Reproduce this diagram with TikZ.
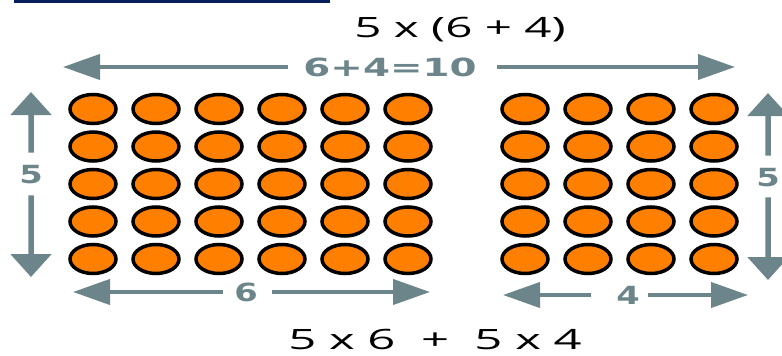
\documentclass[tikz,border=0pt]{standalone}
\usepackage{fontspec}
\setmainfont{Open Sans}
\newfontfamily\dimfont{DejaVu Sans}
\usetikzlibrary{arrows.meta,shapes.geometric}
\definecolor{dimgray}{RGB}{107,133,138}
\definecolor{dotorange}{RGB}{255,128,0}
\definecolor{barnavy}{RGB}{8,30,90}
\begin{document}
\begin{tikzpicture}[x=1pt,y=-1pt,
  dot/.style={ellipse,draw=black,line width=3.5pt,fill=dotorange,minimum width=46pt,minimum height=29pt,inner sep=0pt},
  dimlbl/.style={text=dimgray,font=\dimfont\bfseries\fontsize{25}{25}\selectfont,inner sep=0pt,xscale=1.35},
  eqn/.style={font=\fontsize{28}{28}\selectfont,inner sep=0pt,xscale=1.7},
  harr/.style={-{Triangle[length=37pt,width=25pt]},draw=dimgray,line width=4pt},
  varr/.style={-{Triangle[length=23pt,width=40pt]},draw=dimgray,line width=5.5pt}]
\useasboundingbox (0,0) rectangle (782,356);
% navy bar on top
\fill[barnavy] (14,0) rectangle (330,3);
% the two expressions
\node[eqn] (whole) at (460,30) {5 x (6 + 4)};
\node[eqn,xscale=1.03] (split) at (435,339) {5 x 6 \ + \ 5 x 4};
% dots: 5 rows, 6 on the left and 4 on the right
\foreach \r in {1,...,5}{
  \foreach \c in {1,...,6}
    \node[dot] (L\r\c) at ({93+63*(\c-1)},{109+37.5*(\r-1)}) {};
  \foreach \c in {1,...,4}
    \node[dot] (R\r\c) at ({525+63*(\c-1)},{109+37.5*(\r-1)}) {};
}
% total width 6+4=10
\node[dimlbl,xscale=1.15] (sum) at (390,67) {6+4=10};
\coordinate (sumL) at (63,67);
\coordinate (sumR) at (735,67);
\draw[harr,shorten <=15pt] (sum) -- (sumL);
\draw[harr,shorten <=20pt] (sum) -- (sumR);
% left height 5
\node[dimlbl] (hL) at (31,175) {5};
\coordinate (hLtop) at (31,92);
\coordinate (hLbot) at (31,277);
\draw[varr,shorten <=13pt] (hL) -- (hLtop);
\draw[varr,shorten <=11pt] (hL) -- (hLbot);
% right height 5
\node[dimlbl] (hR) at (768,178) {5};
\coordinate (hRtop) at (768,93);
\coordinate (hRbot) at (768,280);
\draw[varr,shorten <=13pt] (hR) -- (hRtop);
\draw[varr,shorten <=10pt] (hR) -- (hRbot);
% width 6
\node[dimlbl] (wL) at (246,292) {6};
\coordinate (wLa) at (73,292);
\coordinate (wLb) at (430,292);
\draw[harr,shorten <=11pt] (wL) -- (wLa);
\draw[harr,shorten <=14pt] (wL) -- (wLb);
% width 4
\node[dimlbl] (wR) at (628,295) {4};
\coordinate (wRa) at (503,295);
\coordinate (wRb) at (748,295);
\draw[harr,shorten <=25pt] (wR) -- (wRa);
\draw[harr,shorten <=8pt] (wR) -- (wRb);
\end{tikzpicture}
\end{document}
